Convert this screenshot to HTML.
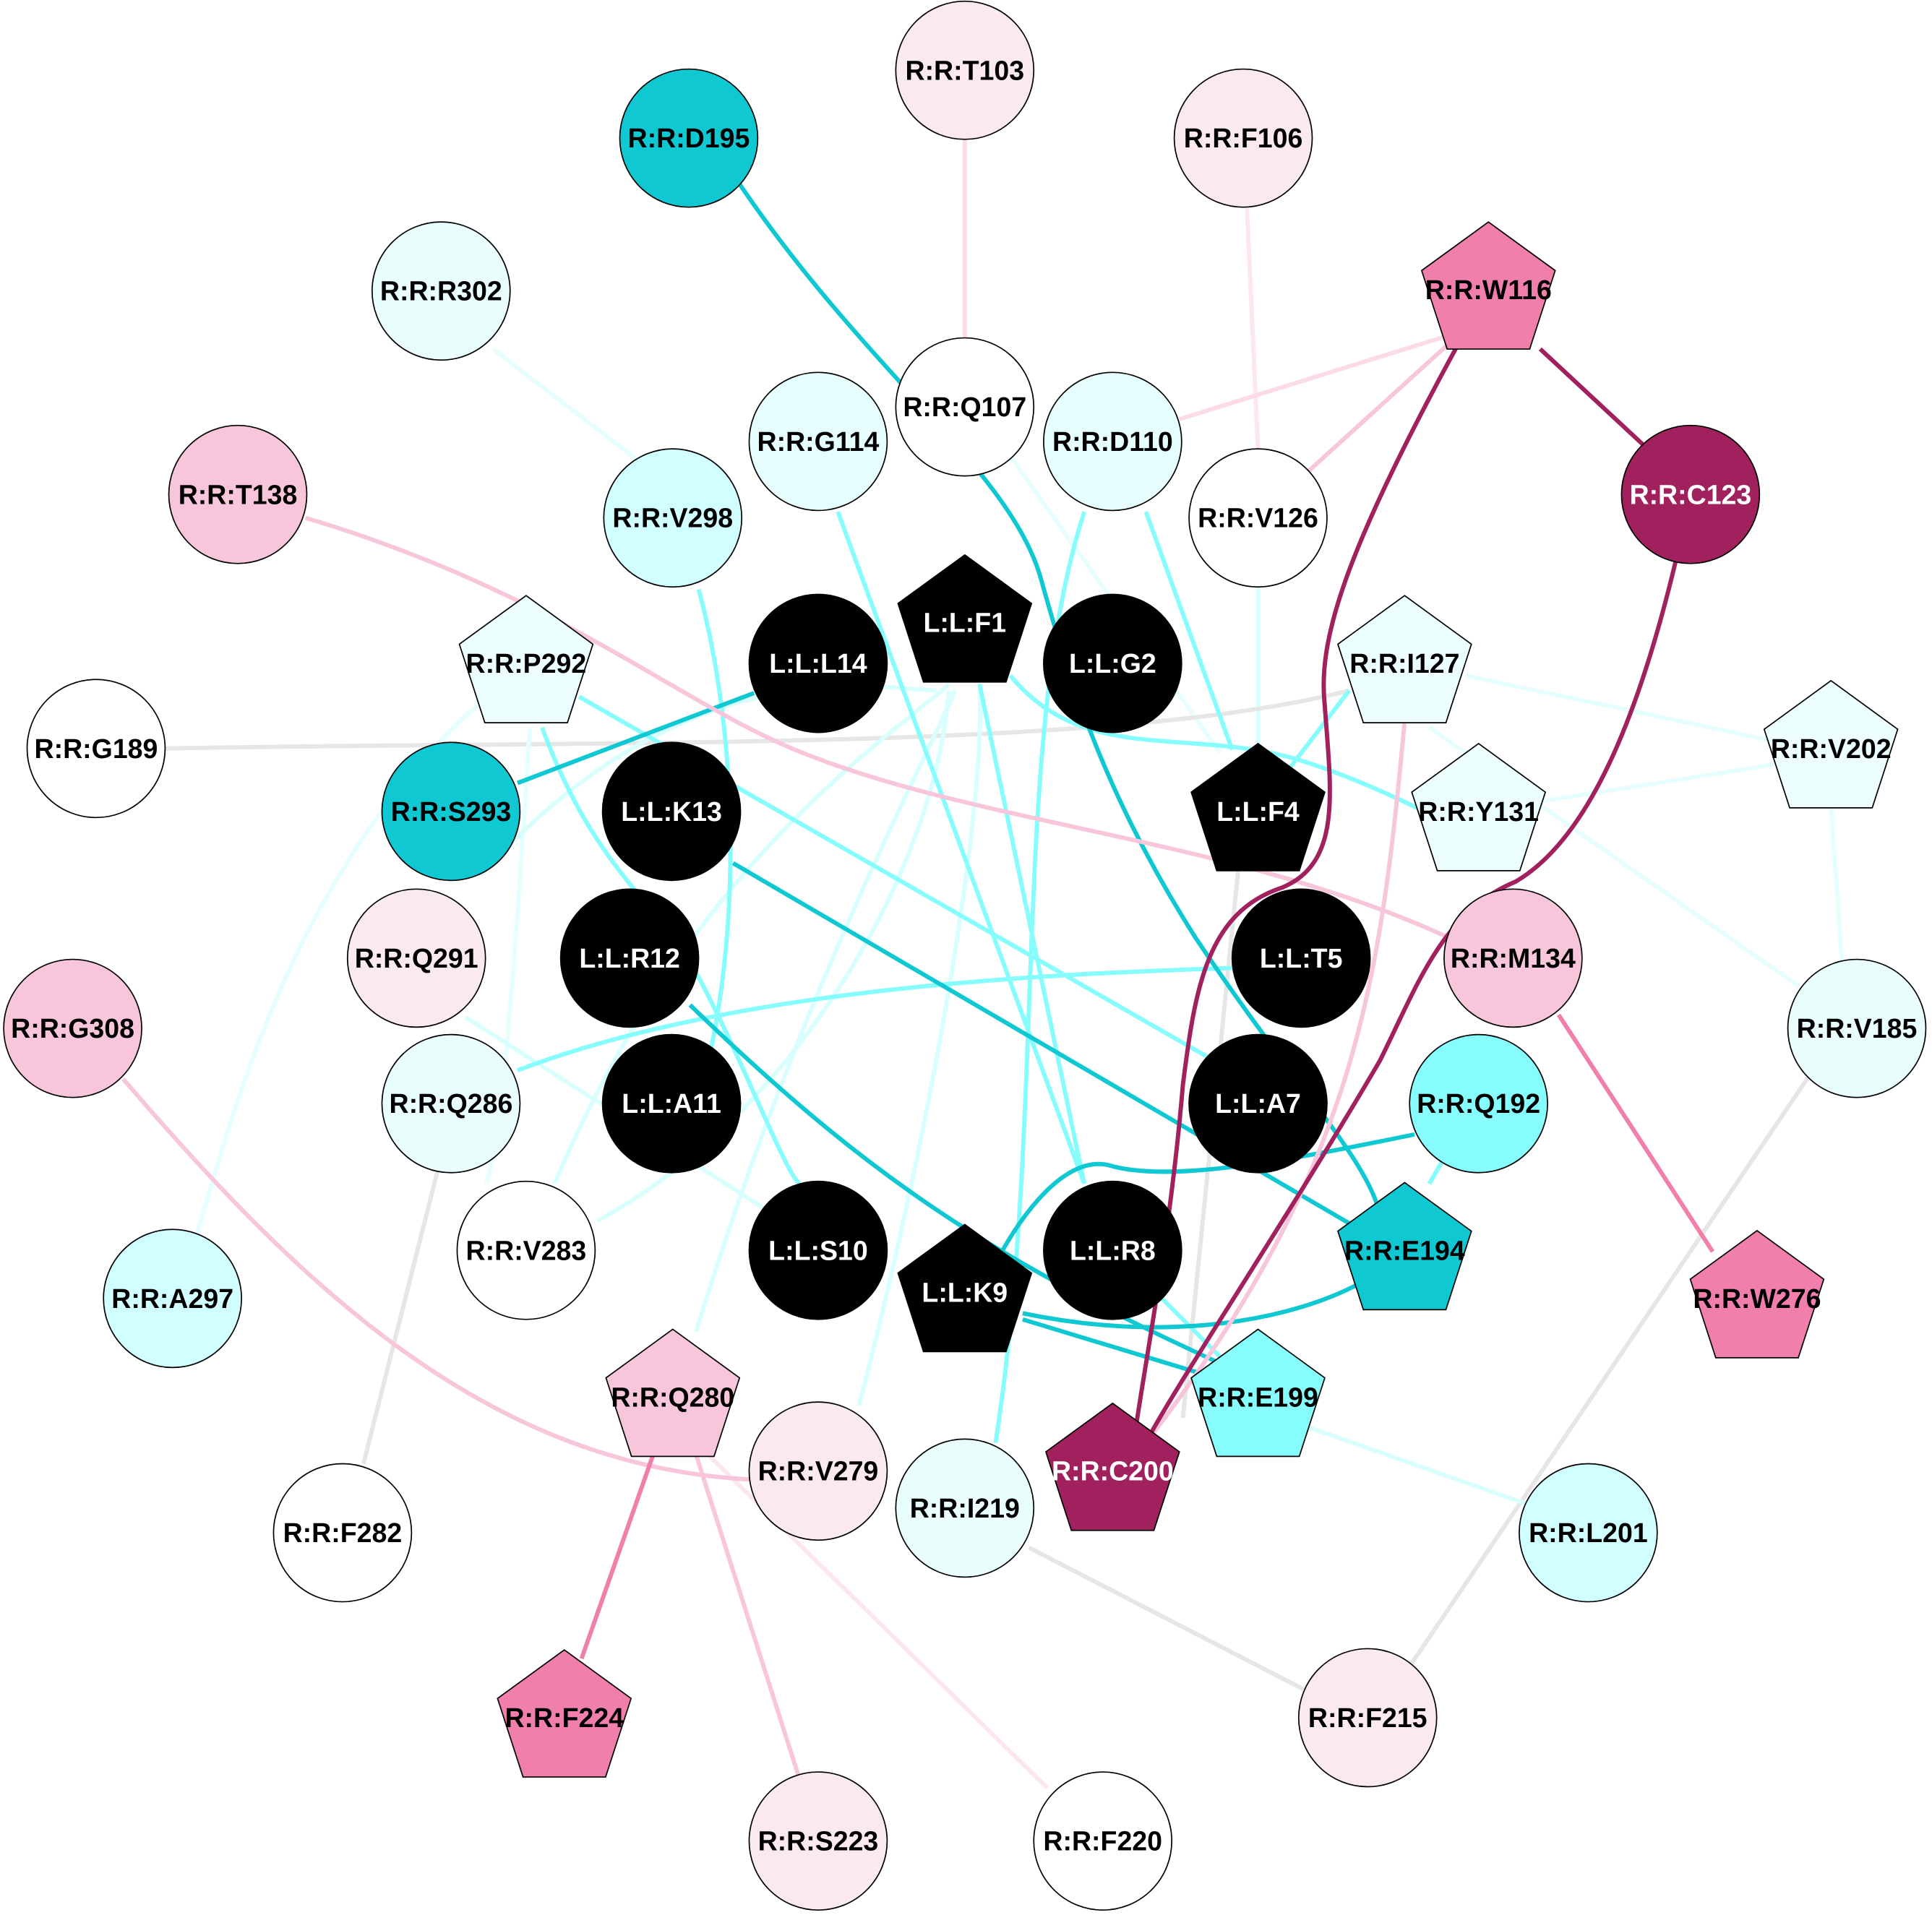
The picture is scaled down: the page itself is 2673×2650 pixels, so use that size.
<!DOCTYPE html>
<html><head><meta charset="utf-8"><style>
html,body{margin:0;padding:0;background:#fff;}
svg{display:block;}
text{font-family:"Liberation Sans",sans-serif;font-weight:bold;font-size:22px;text-anchor:middle;dominant-baseline:central;stroke:none;}
</style></head><body>
<svg width="2673" height="2650" viewBox="0 0 1568 1553" preserveAspectRatio="none" xmlns="http://www.w3.org/2000/svg">
<rect width="1568" height="1553" fill="#fff"/>
<defs><polygon id="pg" points="0,-57 54.2,-17.6 33.5,46.1 -33.5,46.1 -54.2,-17.6"/></defs>
<g fill="none" stroke-width="3.5">
<path d="M783,113 L783,275" stroke="#fbdbe8"/>
<path d="M1012,168 L1021,365" stroke="#fce6ef"/>
<path d="M1208,262 L957,340" stroke="#fbdbe8"/>
<path d="M1180,275 L1062,382" stroke="#f7c6da"/>
<path d="M400,283 L520,375" stroke="#e6fefe"/>
<path d="M820,370 L990,610" stroke="#e6fefe"/>
<path d="M1021,476 L1021,605" stroke="#d9fefe"/>
<path d="M134,607 C500,600 900,610 1095,560" stroke="#e6e6e6"/>
<path d="M1190,548 L1435,600" stroke="#e6fefe"/>
<path d="M1160,590 L1460,800" stroke="#e6fefe"/>
<path d="M1250,650 L1440,620" stroke="#e6fefe"/>
<path d="M1486,655 L1495,780" stroke="#e6fefe"/>
<path d="M1005,705 L960,1150" stroke="#e6e6e6"/>
<path d="M1470,870 L1145,1350" stroke="#e6e6e6"/>
<path d="M355,950 L295,1187" stroke="#e6e6e6"/>
<path d="M835,1255 L1058,1370" stroke="#e6e6e6"/>
<path d="M575,1180 L850,1450" stroke="#fce6ef"/>
<path d="M395,565 C240,700 190,900 160,1000" stroke="#e6fefe"/>
<path d="M430,590 C420,750 410,900 395,960" stroke="#e6fefe"/>
<path d="M378,825 L628,985" stroke="#d9fefe"/>
<path d="M390,710 C560,520 720,560 760,560" stroke="#d9fefe"/>
<path d="M450,960 C560,700 720,600 770,555" stroke="#d9fefe"/>
<path d="M485,990 C650,900 760,700 770,560" stroke="#d9fefe"/>
<path d="M565,1080 C650,800 760,600 775,560" stroke="#d9fefe"/>
<path d="M697,1140 C760,900 800,650 795,560" stroke="#d9fefe"/>
<path d="M1055,1155 L1240,1220" stroke="#d9fefe"/>
<path d="M680,415 L880,960" stroke="#86fcfc"/>
<path d="M880,415 C820,600 850,900 808,1170" stroke="#86fcfc"/>
<path d="M930,415 L1000,608" stroke="#86fcfc"/>
<path d="M567,478 C600,600 600,750 575,860" stroke="#86fcfc"/>
<path d="M795,555 L880,960" stroke="#86fcfc"/>
<path d="M820,548 C880,620 960,590 1050,615 C1100,630 1150,655 1160,660" stroke="#86fcfc"/>
<path d="M470,565 L985,860" stroke="#86fcfc"/>
<path d="M440,590 C480,700 530,730 560,780 C600,850 640,960 650,960" stroke="#86fcfc"/>
<path d="M420,868 C600,800 850,790 1000,785" stroke="#86fcfc"/>
<path d="M1095,560 L1045,625" stroke="#86fcfc"/>
<path d="M1180,925 L1160,960" stroke="#86fcfc"/>
<path d="M940,1050 L990,1100" stroke="#86fcfc"/>
<path d="M594,140 C700,300 820,380 845,470 C870,560 900,650 970,760 C1050,880 1110,940 1120,985" stroke="#10c8d2"/>
<path d="M612,562 L420,635" stroke="#10c8d2"/>
<path d="M595,700 L1100,995" stroke="#10c8d2"/>
<path d="M560,815 C700,950 800,1020 1000,1110" stroke="#10c8d2"/>
<path d="M1148,920 C1050,940 950,960 900,945 C860,935 820,1000 808,1025" stroke="#10c8d2"/>
<path d="M830,1065 C950,1090 1050,1070 1105,1040" stroke="#10c8d2"/>
<path d="M830,1070 L995,1120" stroke="#10c8d2"/>
<path d="M248,420 C450,480 550,570 650,610 C800,670 1000,680 1175,760" stroke="#f7c6da"/>
<path d="M1140,585 C1120,800 1100,950 930,1170" stroke="#f7c6da"/>
<path d="M100,875 C250,1050 400,1190 612,1200" stroke="#f7c6da"/>
<path d="M565,1180 L648,1440" stroke="#f7c6da"/>
<path d="M1265,823 L1390,1015" stroke="#f07fac"/>
<path d="M530,1180 L472,1345" stroke="#f07fac"/>
<path d="M1250,283 L1335,362" stroke="#a0215e"/>
<path d="M1183,280 C1090,450 1070,520 1075,570 C1080,640 1090,700 1040,720 C980,740 970,800 960,880 C950,1000 930,1100 920,1170" stroke="#a0215e"/>
<path d="M1360,455 C1330,580 1290,680 1230,715 C1170,740 1150,800 1120,860 C1050,980 950,1130 930,1170" stroke="#a0215e"/>
</g>
<g stroke="#000" stroke-width="1">
<circle cx="783" cy="57" r="56" fill="#fbe9f1"/><text x="783" y="57">R:R:T103</text>
<circle cx="559" cy="112" r="56" fill="#10c8d2"/><text x="559" y="112">R:R:D195</text>
<circle cx="1009" cy="112" r="56" fill="#fbe9f1"/><text x="1009" y="112">R:R:F106</text>
<use href="#pg" x="1208" y="237" fill="#f07fac"/><text x="1208" y="235">R:R:W116</text>
<circle cx="358" cy="236" r="56" fill="#e9fdfd"/><text x="358" y="236">R:R:R302</text>
<circle cx="783" cy="330" r="56" fill="#fff"/><text x="783" y="330">R:R:Q107</text>
<circle cx="664" cy="358" r="56" fill="#e6fefe"/><text x="664" y="358">R:R:G114</text>
<circle cx="903" cy="358" r="56" fill="#e6fefe"/><text x="903" y="358">R:R:D110</text>
<circle cx="1372" cy="401" r="56" fill="#a0215e"/><text x="1372" y="401" fill="#fff">R:R:C123</text>
<circle cx="193" cy="401" r="56" fill="#f7c6da"/><text x="193" y="401">R:R:T138</text>
<circle cx="546" cy="420" r="56" fill="#d1feff"/><text x="546" y="420">R:R:V298</text>
<circle cx="1021" cy="420" r="56" fill="#fff"/><text x="1021" y="420">R:R:V126</text>
<use href="#pg" x="783" y="507" fill="#000"/><text x="783" y="505" fill="#fff">L:L:F1</text>
<circle cx="664" cy="538" r="56" fill="#000"/><text x="664" y="538" fill="#fff">L:L:L14</text>
<circle cx="903" cy="538" r="56" fill="#000"/><text x="903" y="538" fill="#fff">L:L:G2</text>
<use href="#pg" x="427" y="540" fill="#ecfefe"/><text x="427" y="538">R:R:P292</text>
<use href="#pg" x="1140" y="540" fill="#ecfefe"/><text x="1140" y="538">R:R:I127</text>
<circle cx="78" cy="607" r="56" fill="#fff"/><text x="78" y="607">R:R:G189</text>
<use href="#pg" x="1486" y="609" fill="#ecfefe"/><text x="1486" y="607">R:R:V202</text>
<circle cx="366" cy="658" r="56" fill="#10c8d2"/><text x="366" y="658">R:R:S293</text>
<circle cx="545" cy="658" r="56" fill="#000"/><text x="545" y="658" fill="#fff">L:L:K13</text>
<use href="#pg" x="1021" y="660" fill="#000"/><text x="1021" y="658" fill="#fff">L:L:F4</text>
<use href="#pg" x="1200" y="660" fill="#ecfefe"/><text x="1200" y="658">R:R:Y131</text>
<circle cx="338" cy="777" r="56" fill="#fbe9f1"/><text x="338" y="777">R:R:Q291</text>
<circle cx="511" cy="777" r="56" fill="#000"/><text x="511" y="777" fill="#fff">L:L:R12</text>
<circle cx="1056" cy="777" r="56" fill="#000"/><text x="1056" y="777" fill="#fff">L:L:T5</text>
<circle cx="1228" cy="777" r="56" fill="#f7c6da"/><text x="1228" y="777">R:R:M134</text>
<circle cx="59" cy="834" r="56" fill="#f7c6da"/><text x="59" y="834">R:R:G308</text>
<circle cx="1507" cy="834" r="56" fill="#e9fdfd"/><text x="1507" y="834">R:R:V185</text>
<circle cx="366" cy="895" r="56" fill="#e9fdfd"/><text x="366" y="895">R:R:Q286</text>
<circle cx="545" cy="895" r="56" fill="#000"/><text x="545" y="895" fill="#fff">L:L:A11</text>
<circle cx="1021" cy="895" r="56" fill="#000"/><text x="1021" y="895" fill="#fff">L:L:A7</text>
<circle cx="1200" cy="895" r="56" fill="#86fcfc"/><text x="1200" y="895">R:R:Q192</text>
<circle cx="427" cy="1014" r="56" fill="#fff"/><text x="427" y="1014">R:R:V283</text>
<circle cx="664" cy="1014" r="56" fill="#000"/><text x="664" y="1014" fill="#fff">L:L:S10</text>
<circle cx="903" cy="1014" r="56" fill="#000"/><text x="903" y="1014" fill="#fff">L:L:R8</text>
<use href="#pg" x="1140" y="1016" fill="#10c8d2"/><text x="1140" y="1014">R:R:E194</text>
<use href="#pg" x="783" y="1050" fill="#000"/><text x="783" y="1048" fill="#fff">L:L:K9</text>
<circle cx="140" cy="1053" r="56" fill="#d1feff"/><text x="140" y="1053">R:R:A297</text>
<use href="#pg" x="1426" y="1055" fill="#f07fac"/><text x="1426" y="1053">R:R:W276</text>
<use href="#pg" x="546" y="1135" fill="#f7c6da"/><text x="546" y="1133">R:R:Q280</text>
<use href="#pg" x="1021" y="1135" fill="#86fcfc"/><text x="1021" y="1133">R:R:E199</text>
<circle cx="664" cy="1193" r="56" fill="#fbe9f1"/><text x="664" y="1193">R:R:V279</text>
<use href="#pg" x="903" y="1195" fill="#a0215e"/><text x="903" y="1193" fill="#fff">R:R:C200</text>
<circle cx="783" cy="1223" r="56" fill="#e9fdfd"/><text x="783" y="1223">R:R:I219</text>
<circle cx="278" cy="1243" r="56" fill="#fff"/><text x="278" y="1243">R:R:F282</text>
<circle cx="1289" cy="1243" r="56" fill="#d1feff"/><text x="1289" y="1243">R:R:L201</text>
<use href="#pg" x="458" y="1395" fill="#f07fac"/><text x="458" y="1393">R:R:F224</text>
<circle cx="1110" cy="1393" r="56" fill="#fbe9f1"/><text x="1110" y="1393">R:R:F215</text>
<circle cx="664" cy="1493" r="56" fill="#fbe9f1"/><text x="664" y="1493">R:R:S223</text>
<circle cx="895" cy="1493" r="56" fill="#fff"/><text x="895" y="1493">R:R:F220</text>
</g>
</svg>
</body></html>
